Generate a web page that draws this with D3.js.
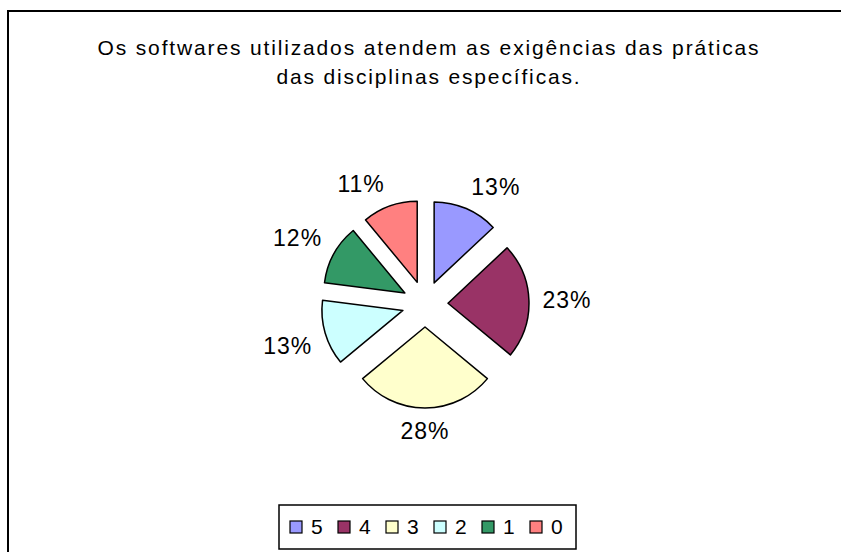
<!DOCTYPE html>
<html>
<head>
<meta charset="utf-8">
<script src="https://cdn.jsdelivr.net/npm/d3@7"></script>
<style>
body { margin: 0; background: #fff; }
text { font-family: "Liberation Sans", Arial, sans-serif; fill: #000; }
</style>
</head>
<body>
<script>
// respostas 5..0 e percentuais
var categories = ['5', '4', '3', '2', '1', '0'];
var values = [13, 23, 28, 13, 12, 11];
var colors = ['#9999FF', '#993366', '#FFFFCC', '#CCFFFF', '#339966', '#FF8080'];
var titleLines = ['Os softwares utilizados atendem as exigências das práticas',
                  'das disciplinas específicas.'];

var width = 841, height = 552;
var cx = 425, cy = 304;
var radius = 81, explode = 23, labelRadius = 118;

var svg = d3.select('body')
.append('svg')
.attr('width', width)
.attr('height', height);

svg.append('rect')
.attr('x', 8)
.attr('y', 11)
.attr('width', 900)
.attr('height', 600)
.attr('fill', '#fff')
.attr('stroke', '#000')
.attr('stroke-width', 2);

svg.append('g')
.selectAll('text')
.data(titleLines)
.enter().append('text')
.attr('x', 429)
.attr('y', function(d, i) { return 55 + i * 29; })
.attr('text-anchor', 'middle')
.style('font-size', '21px')
.style('letter-spacing', '1.85px')
.text(function(d) { return d; });

var pie = d3.pie().sort(null).value(function(d) { return d; });
var arcs = pie(values);
var arc = d3.arc().innerRadius(0).outerRadius(radius);

var main = svg.append('g')
.attr('transform', 'translate(' + cx + ',' + cy + ')');

function mid(d) { return (d.startAngle + d.endAngle) / 2; }

main.selectAll('path')
.data(arcs)
.enter().append('path')
.attr('transform', function(d) {
  var a = mid(d);
  return 'translate(' + (Math.sin(a) * explode) + ',' + (-Math.cos(a) * explode) + ')';
})
.attr('d', arc)
.attr('fill', function(d, i) { return colors[i]; })
.attr('stroke', '#000')
.attr('stroke-width', 1.5)
.attr('stroke-linejoin', 'round');

// rótulos fora da fatia, com o canto da caixa no raio do rótulo
var labelW = 48, labelH = 18;
main.selectAll('.lbl')
.data(arcs)
.enter().append('text')
.attr('class', 'lbl')
.attr('x', function(d) {
  var s = Math.sin(mid(d));
  var sx = Math.abs(s) < 0.1 ? 0 : Math.sign(s);
  return s * labelRadius + sx * labelW / 2;
})
.attr('y', function(d) {
  var c = -Math.cos(mid(d));
  var sy = Math.abs(c) < 0.1 ? 0 : Math.sign(c);
  return c * labelRadius + sy * labelH / 2;
})
.attr('dy', '0.35em')
.attr('text-anchor', 'middle')
.style('font-size', '23px')
.style('letter-spacing', '1px')
.text(function(d) { return d.value + '%'; });

// legenda
var lx = d3.scalePoint()
.domain(categories)
.range([290, 530]);

var legend = svg.append('g');
legend.append('rect')
.attr('x', 279)
.attr('y', 505)
.attr('width', 297)
.attr('height', 44)
.attr('fill', '#fff')
.attr('stroke', '#000')
.attr('stroke-width', 1.5);

var items = legend.selectAll('.item')
.data(categories)
.enter().append('g')
.attr('class', 'item')
.attr('transform', function(d) { return 'translate(' + lx(d) + ',521)'; });

items.append('rect')
.attr('width', 12)
.attr('height', 12)
.attr('fill', function(d, i) { return colors[i]; })
.attr('stroke', '#000')
.attr('stroke-width', 1.2);

items.append('text')
.attr('x', 21)
.attr('y', 13)
.style('font-size', '21px')
.text(function(d) { return d; });
</script>
</body>
</html>
